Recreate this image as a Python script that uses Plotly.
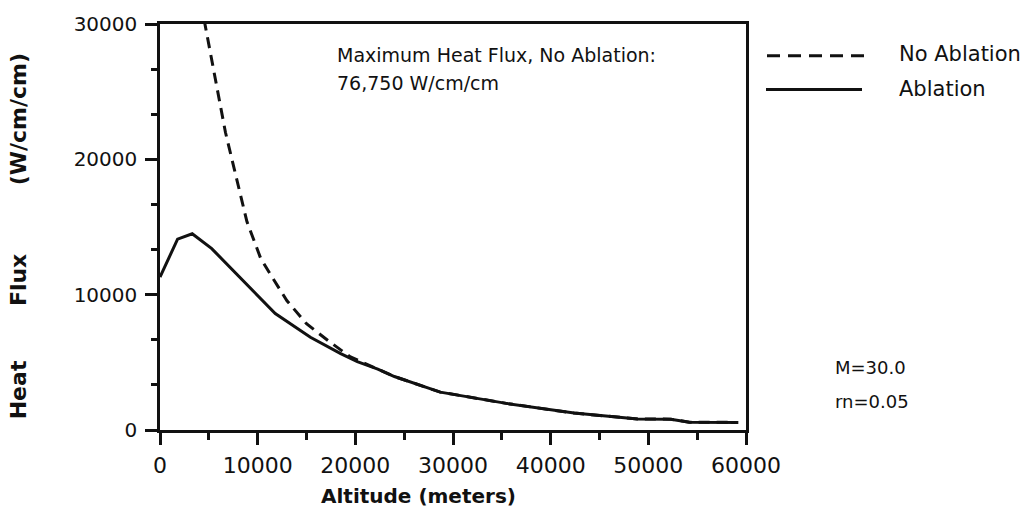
import plotly.graph_objects as go

# Altitude (m) and heat flux (W/cm/cm) for the ablating nose
alt_ablation = [0, 1800, 3300, 5300, 11800, 15400, 18500, 20200, 22300, 24000,
                28700, 35600, 42400, 45800, 48900, 52300, 54200, 59200]
flux_ablation = [11300, 14100, 14500, 13400, 8600, 6850, 5650, 5050, 4500, 3950,
                 2800, 1950, 1250, 1000, 820, 800, 580, 560]

# Heat flux without ablation (peak 76,750 W/cm/cm at sea level)
alt_no_ablation = [0, 2500, 4600, 6700, 8900, 10300, 11300, 13000, 15000, 17400,
                   19500, 22300, 24000, 28700, 35600, 42400, 45800, 48900, 52300,
                   54200, 59200]
flux_no_ablation = [76750, 44000, 30000, 22000, 15400, 12700, 11500, 9550, 7850, 6500,
                    5400, 4500, 3950, 2800, 1950, 1250, 1000, 820, 800, 580, 560]

x_ticks = [0, 10000, 20000, 30000, 40000, 50000, 60000]
y_ticks = [0, 10000, 20000, 30000]

FONT = "DejaVu Sans"
BLACK = "#111111"

fig = go.Figure()
fig.add_trace(go.Scatter(x=alt_ablation, y=flux_ablation, mode="lines",
                         line=dict(color=BLACK, width=3), name="Ablation",
                         showlegend=False))
fig.add_trace(go.Scatter(x=alt_no_ablation, y=flux_no_ablation, mode="lines",
                         line=dict(color=BLACK, width=3, dash="11px,7px"),
                         name="No Ablation", showlegend=False))

L, R, T, B = 160, 289, 21, 87
W, H = 1035, 517
pw, ph = W - L - R, H - T - B


def px(xpix):
    return (xpix - L) / pw


def py(ypix):
    return (H - B - ypix) / ph


fig.update_layout(
    width=W, height=H,
    margin=dict(l=L, r=R, t=T, b=B, pad=0),
    paper_bgcolor="white", plot_bgcolor="white",
    font=dict(family=FONT, color=BLACK),
    xaxis=dict(range=[0, 60000], tickvals=x_ticks, ticktext=[str(v) for v in x_ticks],
               showgrid=False, zeroline=False, showline=True, linecolor=BLACK,
               linewidth=2.5, mirror=True, ticks="outside", ticklen=12, tickwidth=2.5,
               tickcolor=BLACK, tickfont=dict(size=22, family=FONT, color=BLACK),
               ticklabelstandoff=2,
               minor=dict(dtick=5000, tick0=0, ticks="outside", ticklen=7,
                          tickwidth=2.5, tickcolor=BLACK, showgrid=False)),
    yaxis=dict(range=[0, 30000], tickvals=y_ticks, ticktext=[str(v) for v in y_ticks],
               showgrid=False, zeroline=False, showline=True, linecolor=BLACK,
               linewidth=2.5, mirror=True, ticks="outside", ticklen=12, tickwidth=2.5,
               tickcolor=BLACK, tickfont=dict(size=20, family=FONT, color=BLACK),
               ticklabelstandoff=4,
               minor=dict(dtick=10000 / 3, tick0=0, ticks="outside", ticklen=6,
                          tickwidth=2.5, tickcolor=BLACK, showgrid=False)),
)

annotations = [
    # axis titles
    dict(text="<b>Altitude (meters)</b>", x=px(418), y=py(496),
         xanchor="center", yanchor="middle", font=dict(size=20, family=FONT, color=BLACK)),
    dict(text="<b>Heat</b>", textangle=-90, x=px(18), y=py(390),
         xanchor="center", yanchor="middle", font=dict(size=22, family=FONT, color=BLACK)),
    dict(text="<b>Flux</b>", textangle=-90, x=px(18), y=py(279),
         xanchor="center", yanchor="middle", font=dict(size=22, family=FONT, color=BLACK)),
    dict(text="<b>(W/cm/cm)</b>", textangle=-90, x=px(18), y=py(117),
         xanchor="center", yanchor="middle", font=dict(size=22, family=FONT, color=BLACK)),
    # notes
    dict(text="Maximum Heat Flux, No Ablation:", x=px(335), y=py(52),
         xanchor="left", yanchor="middle", font=dict(size=19, family=FONT, color=BLACK)),
    dict(text="76,750 W/cm/cm", x=px(335), y=py(80),
         xanchor="left", yanchor="middle", font=dict(size=19, family=FONT, color=BLACK)),
    dict(text="No Ablation", x=px(897), y=py(51),
         xanchor="left", yanchor="middle", font=dict(size=21, family=FONT, color=BLACK)),
    dict(text="Ablation", x=px(897), y=py(86),
         xanchor="left", yanchor="middle", font=dict(size=21, family=FONT, color=BLACK)),
    dict(text="M=30.0", x=px(833), y=py(367),
         xanchor="left", yanchor="middle", font=dict(size=18, family=FONT, color=BLACK)),
    dict(text="rn=0.05", x=px(833), y=py(401),
         xanchor="left", yanchor="middle", font=dict(size=18, family=FONT, color=BLACK)),
]
for a in annotations:
    a.update(xref="paper", yref="paper", showarrow=False)
fig.update_layout(annotations=annotations)

# Legend keys
fig.add_shape(type="line", xref="paper", yref="paper",
              x0=px(767), x1=px(865), y0=py(53), y1=py(53),
              line=dict(color=BLACK, width=3, dash="13px,8px"))
fig.add_shape(type="line", xref="paper", yref="paper",
              x0=px(766), x1=px(862), y0=py(87), y1=py(87),
              line=dict(color=BLACK, width=3))

fig.write_html("out.html")
